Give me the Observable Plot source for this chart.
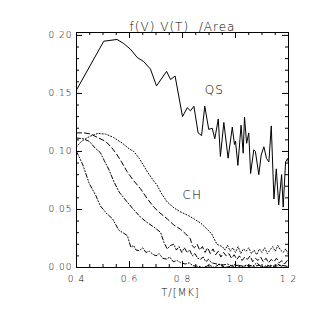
<!DOCTYPE html>
<html><head><meta charset="utf-8">
<script src="https://cdn.jsdelivr.net/npm/d3@7"></script>
<script src="https://cdn.jsdelivr.net/npm/@observablehq/plot@0.6"></script>
<style>
body{margin:0;background:#fff}
svg text{letter-spacing:1px;font-weight:200}
</style>
</head><body><div id="chart"></div>
<script>
// QS curve (solid)
const qsT = [0.400,0.503,0.553,0.578,0.604,0.629,0.654,0.679,0.702,0.740,0.755,0.772,0.800,0.818,0.830,0.843,0.859,0.872,0.884,0.899,0.912,0.922,0.935,0.943,0.956,0.972,0.988,0.996,1.000,1.009,1.021,1.029,1.034,1.042,1.050,1.057,1.069,1.075,1.088,1.097,1.107,1.117,1.126,1.135,1.145,1.154,1.163,1.174,1.180,1.189,1.197,1.200];
const qsV = [0.153,0.195,0.1965,0.193,0.188,0.181,0.1774,0.171,0.1565,0.169,0.162,0.165,0.130,0.1377,0.135,0.139,0.116,0.1137,0.139,0.119,0.120,0.111,0.128,0.0957,0.125,0.0942,0.121,0.106,0.109,0.088,0.1226,0.0985,0.1296,0.107,0.116,0.081,0.1014,0.100,0.080,0.097,0.104,0.094,0.091,0.122,0.059,0.085,0.054,0.080,0.052,0.091,0.094,0.090];

// CH curves
const ch1T = [0.400,0.420,0.450,0.480,0.510,0.540,0.574,0.600,0.616,0.637,0.667,0.690,0.704,0.720,0.742,0.770,0.792,0.820,0.843,0.870,0.893,0.910,0.930,0.950,0.960,0.970,0.980,0.990,1.000,1.010,1.020,1.030,1.040,1.050,1.060,1.070,1.080,1.090,1.100,1.110,1.120,1.130,1.140,1.150,1.160,1.170,1.180,1.190,1.200];
const ch1V = [0.104,0.109,0.113,0.1155,0.115,0.112,0.107,0.102,0.100,0.094,0.0826,0.075,0.071,0.064,0.0565,0.051,0.048,0.045,0.042,0.038,0.033,0.029,0.020,0.018,0.015,0.019,0.014,0.017,0.013,0.018,0.012,0.016,0.014,0.017,0.012,0.015,0.011,0.016,0.013,0.017,0.012,0.015,0.018,0.014,0.019,0.015,0.013,0.016,0.011];

const ch2T = [0.400,0.430,0.454,0.480,0.510,0.530,0.549,0.570,0.591,0.615,0.641,0.665,0.692,0.715,0.742,0.765,0.792,0.812,0.830,0.836,0.845,0.855,0.865,0.875,0.885,0.895,0.905,0.915,0.925,0.935,0.945,0.955,0.965,0.975,0.985,0.995,1.005,1.015,1.025,1.035,1.045,1.055,1.065,1.075,1.085,1.095,1.105,1.115,1.125,1.135,1.145,1.155,1.165,1.175,1.185,1.195,1.200];
const ch2V = [0.116,0.116,0.115,0.112,0.1087,0.104,0.0985,0.091,0.0826,0.075,0.068,0.060,0.052,0.047,0.042,0.037,0.033,0.029,0.0246,0.019,0.017,0.020,0.015,0.018,0.013,0.017,0.012,0.016,0.011,0.014,0.009,0.013,0.010,0.012,0.008,0.011,0.007,0.010,0.006,0.009,0.007,0.010,0.005,0.008,0.006,0.009,0.005,0.008,0.004,0.007,0.005,0.008,0.004,0.006,0.003,0.006,0.004];

const ch3T = [0.400,0.425,0.448,0.470,0.490,0.505,0.523,0.541,0.561,0.591,0.615,0.641,0.665,0.692,0.717,0.730,0.742,0.755,0.767,0.777,0.787,0.797,0.807,0.817,0.827,0.837,0.847,0.857,0.868,0.878,0.888,0.898,0.910,0.930,0.950,0.970,0.990,1.010,1.030,1.050,1.070,1.090,1.110,1.130,1.150,1.170,1.200];
const ch3V = [0.1116,0.111,0.1087,0.103,0.099,0.092,0.084,0.074,0.065,0.0565,0.050,0.0435,0.039,0.0348,0.0304,0.0217,0.016,0.019,0.020,0.015,0.018,0.013,0.017,0.013,0.015,0.010,0.012,0.008,0.0072,0.009,0.005,0.007,0.004,0.003,0.002,0.003,0.001,0.002,0.001,0.002,0.001,0.002,0.000,0.002,0.001,0.002,0.001];

const ch4T = [0.400,0.424,0.448,0.473,0.490,0.516,0.536,0.560,0.575,0.592,0.605,0.615,0.625,0.637,0.650,0.662,0.675,0.687,0.700,0.712,0.725,0.740,0.752,0.765,0.780,0.792,0.810,0.825,0.840,0.860,0.880,0.900,0.920,0.940,0.960,0.980,1.000,1.020,1.040,1.060,1.080,1.100,1.120,1.140,1.160,1.180,1.200];
const ch4V = [0.100,0.0884,0.0724,0.062,0.053,0.046,0.042,0.032,0.030,0.0275,0.0174,0.019,0.015,0.0145,0.017,0.013,0.014,0.0116,0.010,0.012,0.008,0.0072,0.009,0.005,0.006,0.0043,0.003,0.004,0.0015,0.001,0.000,0.002,0.000,0.003,0.000,0.001,0.003,0.000,0.002,0.000,0.004,0.000,0.002,0.000,0.003,0.000,0.001];

const xTickLabels = [0.4,0.6,0.8,1.0,1.2];
const yTickLabels = [0.00,0.05,0.10,0.15,0.20];
const xMinorTicks = [0.45,0.5,0.55,0.65,0.7,0.75,0.85,0.9,0.95,1.05,1.1,1.15];
const yMinorTicks = [0.01,0.02,0.03,0.04,0.06,0.07,0.08,0.09,0.11,0.12,0.13,0.14,0.16,0.17,0.18,0.19];

const series = [
  {name:"QS", t:qsT, v:qsV, dash:null},
  {name:"CH1", t:ch1T, v:ch1V, dash:"1,2"},
  {name:"CH2", t:ch2T, v:ch2V, dash:"5,3"},
  {name:"CH3", t:ch3T, v:ch3V, dash:"4,2,1,2"},
  {name:"CH4", t:ch4T, v:ch4V, dash:"4,2,1,2,1,2"}
];

const W = 332, H = 310, mL = 76, mR = 44, mT = 32, mB = 43;
const pw = W - mL - mR, ph = H - mT - mB;
const majLen = 6, minLen = 3;

const lineMarks = series.map(s => Plot.line(s.t.map((t,i)=>({T:t, V:s.v[i]})), {
  x:"T", y:"V", stroke:"#000", strokeWidth:1, strokeDasharray:s.dash
}));

const tickMarks = [
  Plot.ruleX(xTickLabels, {x:d=>d, insetTop: ph - majLen, stroke:"#000"}),
  Plot.ruleX(xTickLabels, {x:d=>d, insetBottom: ph - majLen, stroke:"#000"}),
  Plot.ruleX(xMinorTicks, {x:d=>d, insetTop: ph - minLen, stroke:"#000"}),
  Plot.ruleX(xMinorTicks, {x:d=>d, insetBottom: ph - minLen, stroke:"#000"}),
  Plot.ruleY(yTickLabels, {y:d=>d, insetRight: pw - majLen, stroke:"#000"}),
  Plot.ruleY(yTickLabels, {y:d=>d, insetLeft: pw - majLen, stroke:"#000"}),
  Plot.ruleY(yMinorTicks, {y:d=>d, insetRight: pw - minLen, stroke:"#000"}),
  Plot.ruleY(yMinorTicks, {y:d=>d, insetLeft: pw - minLen, stroke:"#000"})
];

const chart = Plot.plot({
  width: W, height: H,
  marginLeft: mL, marginRight: mR, marginTop: mT, marginBottom: mB,
  style: {fontFamily: "'DejaVu Sans', sans-serif", fontSize: "9px", background: "#fff", color: "#000"},
  x: {domain: [0.4, 1.2], axis: null},
  y: {domain: [0, 0.2025], axis: null},
  marks: [
    ...lineMarks,
    ...tickMarks,
    Plot.frame({stroke:"#000"}),
    Plot.text(xTickLabels, {x:d=>d, frameAnchor:"bottom", dy:14.5, text:d=>d.toFixed(1), fill:"#000", fontSize:9}),
    Plot.text(yTickLabels, {y:d=>d, frameAnchor:"left", textAnchor:"end", dx:-4, text:d=>d.toFixed(2), fill:"#000", fontSize:9}),
    Plot.text(["f(V) V(T)  /Area"], {frameAnchor:"top", dy:-10, fill:"#000", fontSize:12}),
    Plot.text(["T/[MK]"], {frameAnchor:"bottom", dy:28, dx:-2, fill:"#000", fontSize:10}),
    Plot.text(["QS"], {x:[0.92], y:[0.153], text:d=>d, fill:"#000", fontSize:12}),
    Plot.text(["CH"], {x:[0.837], y:[0.0623], text:d=>d, fill:"#000", fontSize:12})
  ]
});
document.getElementById("chart").appendChild(chart);
</script>
</body></html>
